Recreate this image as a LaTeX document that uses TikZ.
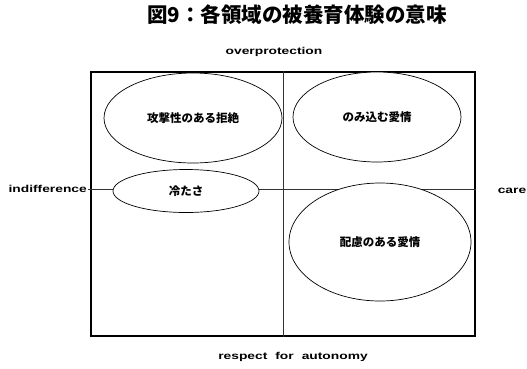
\documentclass[tikz,border=0pt]{standalone}
\usepackage{fontspec}
\setmainfont{Liberation Sans}
\newfontfamily\widefont{Liberation Sans}[FakeStretch=1.38]
\newfontfamily\cjk{Noto Sans CJK JP}
\usetikzlibrary{shapes.geometric}
\begin{document}
\begin{tikzpicture}[x=1pt,y=-1pt,
  ell/.style={draw, ellipse, fill=white, inner sep=0pt, line width=0.7pt,
    font=\cjk\bfseries\fontsize{11.5}{13}\selectfont},
  lab/.style={font=\widefont\bfseries\fontsize{10}{12}\selectfont, inner sep=1pt},
  divider/.style={line width=0.7pt, draw=black!80}]
\useasboundingbox (0,0) rectangle (527,368);
\node[font=\cjk\bfseries\fontsize{20.5}{24}\selectfont] (title) at (297,15) {図9：各領域の被養育体験の意味};
\node[draw, line width=1.1pt, minimum width=384, minimum height=264, inner sep=0pt] (box) at (283,204) {};
\node[lab] (over) at (274,52) {overprotection};
\node[lab] (resp) at (293,357) {respect\hspace{8pt}for\hspace{8pt}autonomy};
\node[lab, anchor=east] (indiff) at (88,189) {indifference};
\node[lab] (care) at (512,191) {care};
\draw[divider] (box.north) -- (box.south);
\draw[divider] (indiff.east) -- (indiff.east -| box.east);
\node[ell, minimum width=178, minimum height=90] (rej) at (193,118) {攻撃性のある拒絶};
\node[ell, minimum width=168, minimum height=90] (swal) at (377,117) {のみ込む愛情};
\node[ell, minimum width=146, minimum height=43] (cold) at (186,191) {冷たさ};
\node[ell, minimum width=182, minimum height=118] (consid) at (380,242) {配慮のある愛情};
\end{tikzpicture}
\end{document}
